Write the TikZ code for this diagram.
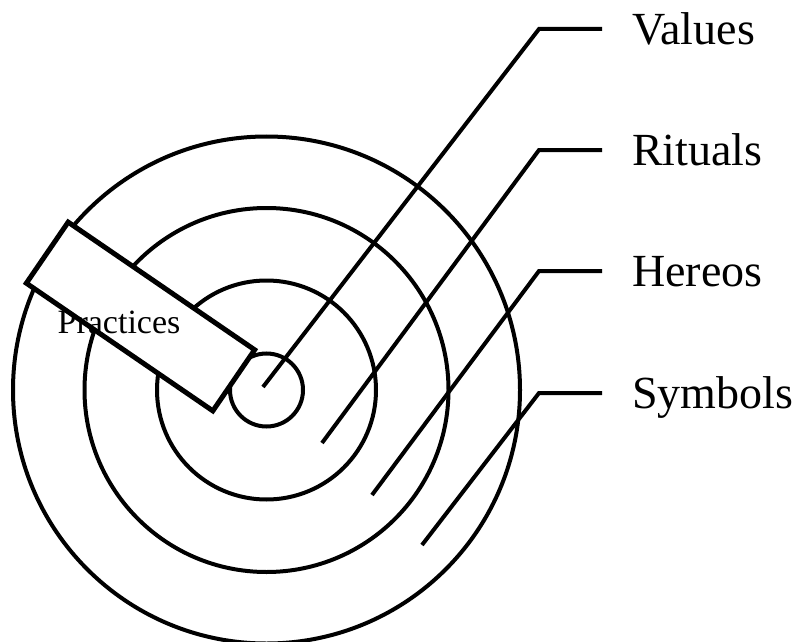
\documentclass[tikz,border=0pt]{standalone}
\usepackage{fontspec}
\setmainfont{Liberation Serif}
\usetikzlibrary{positioning,calc}

\begin{document}
\begin{tikzpicture}[x=0.75pt, y=-0.75pt]
    \tikzset{
      ring/.style={draw, line width=3pt},
      lead/.style={draw, line width=3pt},
      lab/.style={inner sep=0pt, text height=22.8pt, text depth=0pt, font=\fontsize{34.5}{40}\selectfont},
      layerbox/.style={draw, fill=white, line width=3.75pt, minimum width=169.5pt, minimum height=55.5pt, rotate=-34.4},
    }
    \useasboundingbox (0,0) rectangle (800,642);

    \coordinate (c) at (266.5,390);
    \draw[ring] (c) circle[radius=253.5];
    \draw[ring] (c) circle[radius=182];
    \draw[ring] (c) circle[radius=109.5];
    \draw[ring] (c) circle[radius=36.5];

    \node[layerbox] (practicesbox) at (140.5,316.5) {};
    \node[anchor=base, inner sep=0pt, font=\fontsize{25.5}{30}\selectfont] (practices) at (119,333) {Practices};

    \coordinate (vend) at (263,387);
    \coordinate (vk) at (539,29);
    \coordinate (rend) at (322,443);
    \coordinate (rk) at (539,150);
    \coordinate (hend) at (372,495);
    \coordinate (hk) at (539,271);
    \coordinate (send) at (422,545);
    \coordinate (sk) at (539,393);

    \node[lab, right=69.75pt of vk] (values) {Values};
    \node[lab, right=69.75pt of rk] (rituals) {Rituals};
    \node[lab, right=69.75pt of hk] (hereos) {Hereos};
    \node[lab, right=69.75pt of sk] (symbols) {Symbols};

    \draw[lead] (vend) -- (vk) -- ([xshift=-22.5pt]values.west);
    \draw[lead] (rend) -- (rk) -- ([xshift=-22.5pt]rituals.west);
    \draw[lead] (hend) -- (hk) -- ([xshift=-22.5pt]hereos.west);
    \draw[lead] (send) -- (sk) -- ([xshift=-22.5pt]symbols.west);
  \end{tikzpicture}
\end{document}
